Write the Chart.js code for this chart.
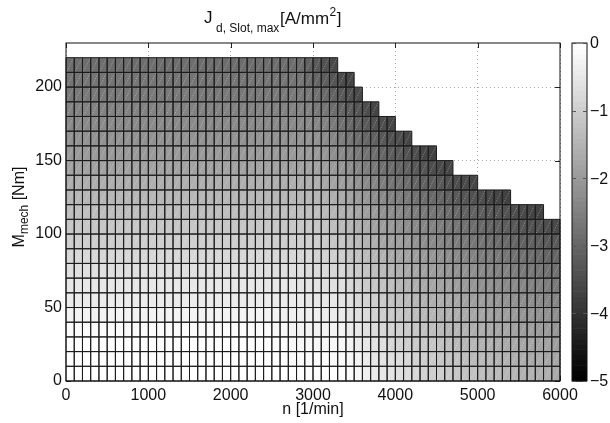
<!DOCTYPE html>
<html>
<head>
<meta charset="utf-8">
<script src="https://cdn.jsdelivr.net/npm/chart.js@4.4.1/dist/chart.umd.min.js"></script>
<style>
html,body{margin:0;padding:0;background:#fff;}
#wrap{position:relative;width:610px;height:423px;}
canvas{display:block;}
</style>
</head>
<body>
<div id="wrap"><canvas id="c" width="610" height="423"></canvas></div>
<script>
// ---------------- DATA ----------------
// cell lower-left corners: speed n [1/min] (cell width 100) and torque M [Nm] (cell height 10)
const speedStarts = [0,100,200,300,400,500,600,700,800,900,1000,1100,1200,1300,1400,1500,1600,1700,1800,1900,
  2000,2100,2200,2300,2400,2500,2600,2700,2800,2900,3000,3100,3200,3300,3400,3500,3600,3700,3800,3900,
  4000,4100,4200,4300,4400,4500,4600,4700,4800,4900,5000,5100,5200,5300,5400,5500,5600,5700,5800,5900];
const speedStep = 100;
const torqueStep = 10;
const torqueRows = [0,10,20,30,40,50,60,70,80,90,100,110,120,130,140,150,160,170,180,190,200,210];

// J_d,Slot,max [A/mm^2] per torque row, along speedStarts (row ends at the torque envelope)
const J_T0 = [0,0,0,0,0,0,0,0,0,0, 0,0,0,0,0,0,0,0,0,0, 0,0,0,0,0,0,0,0,0,0, 0,0,0,0,
  -0.11,-0.22,-0.32,-0.41,-0.50,-0.59,-0.67,-0.74,-0.81,-0.88,-0.95,-1.01,-1.07,-1.13,-1.19,-1.24,-1.29,-1.34,-1.39,-1.43,-1.48,-1.52,-1.56,-1.60,-1.64,-1.68];
const J_T10 = [-0.03,-0.03,-0.03,-0.03,-0.03,-0.03,-0.03,-0.03,-0.03,-0.03, -0.03,-0.03,-0.03,-0.03,-0.03,-0.03,-0.03,-0.03,-0.03,-0.03, -0.03,-0.03,-0.03,-0.03,-0.03,
  -0.07,-0.07,-0.08,-0.08,-0.08,-0.09,-0.09,-0.09,-0.09,
  -0.21,-0.31,-0.41,-0.51,-0.60,-0.68,-0.76,-0.84,-0.91,-0.98,-1.05,-1.11,-1.18,-1.23,-1.29,-1.34,-1.40,-1.44,-1.49,-1.54,-1.58,-1.63,-1.67,-1.71,-1.75,-1.78];
const J_T20 = [-0.07,-0.07,-0.07,-0.07,-0.07,-0.07,-0.07,-0.07,-0.07,-0.07, -0.07,-0.07,-0.07,-0.07,-0.07,-0.07,-0.07,-0.07,-0.07,-0.07, -0.07,-0.07,-0.07,-0.07,-0.07,
  -0.14,-0.15,-0.16,-0.16,-0.17,-0.18,-0.18,-0.19,-0.20,
  -0.31,-0.42,-0.52,-0.61,-0.70,-0.79,-0.87,-0.95,-1.02,-1.09,-1.16,-1.23,-1.29,-1.35,-1.41,-1.46,-1.51,-1.56,-1.61,-1.66,-1.70,-1.75,-1.79,-1.83,-1.87,-1.91];
const J_T30 = [-0.15,-0.15,-0.15,-0.15,-0.15,-0.15,-0.15,-0.15,-0.15,-0.15, -0.15,-0.15,-0.15,-0.15,-0.15,-0.15,-0.15,-0.15,-0.15,-0.15, -0.15,-0.15,-0.15,-0.15,-0.15,
  -0.22,-0.23,-0.24,-0.25,-0.27,-0.28,-0.29,-0.30,-0.31,
  -0.42,-0.53,-0.63,-0.73,-0.82,-0.91,-0.99,-1.07,-1.15,-1.22,-1.29,-1.35,-1.42,-1.48,-1.53,-1.59,-1.64,-1.70,-1.74,-1.79,-1.84,-1.88,-1.93,-1.97,-2.01,-2.05];
const J_T40 = [-0.27,-0.27,-0.27,-0.27,-0.27,-0.27,-0.27,-0.27,-0.27,-0.27, -0.27,-0.27,-0.27,-0.27,-0.27,-0.27,-0.27,-0.27,-0.27,-0.27, -0.27,-0.27,-0.27,-0.27,-0.27,
  -0.31,-0.32,-0.34,-0.35,-0.37,-0.38,-0.40,-0.41,-0.43,
  -0.55,-0.65,-0.76,-0.86,-0.95,-1.04,-1.12,-1.20,-1.28,-1.35,-1.42,-1.49,-1.55,-1.62,-1.68,-1.73,-1.79,-1.84,-1.89,-1.94,-1.99,-2.04,-2.08,-2.13,-2.17,-2.21];
const J_T50 = [-0.40,-0.40,-0.40,-0.40,-0.40,-0.40,-0.40,-0.40,-0.40,-0.40, -0.40,-0.40,-0.40,-0.40,-0.40,-0.40,-0.40,-0.40,-0.40,-0.40, -0.40,-0.40,-0.40,-0.40,-0.40,-0.40,
  -0.41,-0.43,-0.45,-0.47,-0.49,-0.52,-0.54,-0.56,
  -0.68,-0.79,-0.89,-0.99,-1.09,-1.18,-1.26,-1.34,-1.42,-1.50,-1.57,-1.64,-1.71,-1.77,-1.83,-1.89,-1.95,-2.00,-2.06,-2.11,-2.16,-2.21,-2.26,-2.30,-2.35,-2.39];
const J_T60 = [-0.53,-0.53,-0.53,-0.53,-0.53,-0.53,-0.53,-0.53,-0.53,-0.53, -0.53,-0.53,-0.53,-0.53,-0.53,-0.53,-0.53,-0.53,-0.53,-0.53, -0.53,-0.53,-0.53,-0.53,-0.53,-0.53,-0.53,
  -0.54,-0.56,-0.59,-0.61,-0.64,-0.67,-0.70,
  -0.81,-0.93,-1.03,-1.14,-1.23,-1.32,-1.41,-1.50,-1.58,-1.66,-1.73,-1.80,-1.87,-1.94,-2.00,-2.06,-2.12,-2.18,-2.23,-2.29,-2.34,-2.39,-2.44,-2.49,-2.54,-2.58];
const J_T70 = [-0.67,-0.67,-0.67,-0.67,-0.67,-0.67,-0.67,-0.67,-0.67,-0.67, -0.67,-0.67,-0.67,-0.67,-0.67,-0.67,-0.67,-0.67,-0.67,-0.67, -0.67,-0.67,-0.67,-0.67,-0.67,-0.67,-0.67,-0.67,
  -0.68,-0.71,-0.74,-0.77,-0.81,-0.84,
  -0.96,-1.08,-1.19,-1.29,-1.39,-1.48,-1.57,-1.66,-1.74,-1.82,-1.90,-1.97,-2.05,-2.12,-2.18,-2.25,-2.31,-2.37,-2.43,-2.49,-2.54,-2.59,-2.65,-2.70,-2.75,-2.80];
const J_T80 = [-0.82,-0.82,-0.82,-0.82,-0.82,-0.82,-0.82,-0.82,-0.82,-0.82, -0.82,-0.82,-0.82,-0.82,-0.82,-0.82,-0.82,-0.82,-0.82,-0.82, -0.82,-0.82,-0.82,-0.82,-0.82,-0.82,-0.82,-0.82,-0.82,
  -0.83,-0.87,-0.91,-0.95,-0.99,
  -1.12,-1.24,-1.35,-1.45,-1.56,-1.65,-1.75,-1.84,-1.92,-2.00,-2.08,-2.16,-2.24,-2.31,-2.38,-2.45,-2.51,-2.57,-2.64,-2.70,-2.76,-2.81,-2.87,-2.92,-2.98,-3.03];
const J_T90 = [-0.98,-0.98,-0.98,-0.98,-0.98,-0.98,-0.98,-0.98,-0.98,-0.98, -0.98,-0.98,-0.98,-0.98,-0.98,-0.98,-0.98,-0.98,-0.98,-0.98, -0.98,-0.98,-0.98,-0.98,-0.98,-0.98,-0.98,-0.98,-0.98,-0.98,
  -1.01,-1.06,-1.11,-1.16,
  -1.28,-1.40,-1.52,-1.63,-1.73,-1.83,-1.93,-2.02,-2.11,-2.20,-2.28,-2.36,-2.44,-2.51,-2.59,-2.66,-2.73,-2.79,-2.86,-2.92,-2.98,-3.05,-3.11,-3.16,-3.22,-3.28];
const J_T100 = [-1.14,-1.14,-1.14,-1.14,-1.14,-1.14,-1.14,-1.14,-1.14,-1.14, -1.14,-1.14,-1.14,-1.14,-1.14,-1.14,-1.14,-1.14,-1.14,-1.14, -1.14,-1.14,-1.14,-1.14,-1.14,-1.14,-1.14,-1.14,-1.14,-1.14,
  -1.16,-1.21,-1.27,-1.33,
  -1.46,-1.58,-1.70,-1.81,-1.92,-2.02,-2.12,-2.22,-2.31,-2.40,-2.49,-2.57,-2.65,-2.73,-2.81,-2.88,-2.96,-3.03,-3.10,-3.16,-3.23,-3.30,-3.36,-3.42,-3.48,-3.54];
const J_T110 = [-1.30,-1.30,-1.30,-1.30,-1.30,-1.30,-1.30,-1.30,-1.30,-1.30, -1.30,-1.30,-1.30,-1.30,-1.30,-1.30,-1.30,-1.30,-1.30,-1.30, -1.30,-1.30,-1.30,-1.30,-1.30,-1.30,-1.30,-1.30,-1.30,-1.30,
  -1.31,-1.38,-1.44,-1.51,
  -1.64,-1.77,-1.89,-2.00,-2.12,-2.22,-2.33,-2.43,-2.52,-2.62,-2.71,-2.80,-2.88,-2.96,-3.05,-3.12,-3.20,-3.27,-3.35,-3.42,-3.49,-3.56,-3.63,-3.70];
const J_T120 = [-1.47,-1.47,-1.47,-1.47,-1.47,-1.47,-1.47,-1.47,-1.47,-1.47, -1.47,-1.47,-1.47,-1.47,-1.47,-1.47,-1.47,-1.47,-1.47,-1.47, -1.47,-1.47,-1.47,-1.47,-1.47,-1.47,-1.47,-1.47,-1.47,-1.47,-1.47,
  -1.54,-1.62,-1.69,
  -1.83,-1.96,-2.09,-2.21,-2.32,-2.44,-2.54,-2.65,-2.75,-2.84,-2.94,-3.03,-3.12,-3.21,-3.29,-3.38,-3.46,-3.54,-3.62,-3.69];
const J_T130 = [-1.63,-1.63,-1.63,-1.63,-1.63,-1.63,-1.63,-1.63,-1.63,-1.63, -1.63,-1.63,-1.63,-1.63,-1.63,-1.63,-1.63,-1.63,-1.63,-1.63, -1.63,-1.63,-1.63,-1.63,-1.63,-1.63,-1.63,-1.63,-1.63,-1.63,
  -1.64,-1.72,-1.80,-1.89,
  -2.03,-2.17,-2.30,-2.42,-2.54,-2.66,-2.77,-2.88,-2.98,-3.08,-3.18,-3.28,-3.37,-3.47,-3.56,-3.65];
const J_T140 = [-1.80,-1.80,-1.80,-1.80,-1.80,-1.80,-1.80,-1.80,-1.80,-1.80, -1.80,-1.80,-1.80,-1.80,-1.80,-1.80,-1.80,-1.80,-1.80,-1.80, -1.80,-1.80,-1.80,-1.80,-1.80,-1.80,-1.80,-1.80,-1.80,-1.80,
  -1.81,-1.90,-2.00,-2.09,
  -2.24,-2.38,-2.51,-2.64,-2.77,-2.89,-3.00,-3.12,-3.23,-3.33,-3.44,-3.54,-3.64];
const J_T150 = [-1.96,-1.96,-1.96,-1.96,-1.96,-1.96,-1.96,-1.96,-1.96,-1.96, -1.96,-1.96,-1.96,-1.96,-1.96,-1.96,-1.96,-1.96,-1.96,-1.96, -1.96,-1.96,-1.96,-1.96,-1.96,-1.96,-1.96,-1.96,-1.96,-1.96,
  -2.00,-2.10,-2.20,-2.30,
  -2.45,-2.60,-2.74,-2.87,-3.00,-3.13,-3.25,-3.37,-3.49,-3.60,-3.71];
const J_T160 = [-2.12,-2.12,-2.12,-2.12,-2.12,-2.12,-2.12,-2.12,-2.12,-2.12, -2.12,-2.12,-2.12,-2.12,-2.12,-2.12,-2.12,-2.12,-2.12,-2.12, -2.12,-2.12,-2.12,-2.12,-2.12,-2.12,-2.12,-2.12,-2.12,-2.12,
  -2.18,-2.29,-2.41,-2.53,
  -2.68,-2.83,-2.98,-3.12,-3.25,-3.38,-3.51,-3.63];
const J_T170 = [-2.28,-2.28,-2.28,-2.28,-2.28,-2.28,-2.28,-2.28,-2.28,-2.28, -2.28,-2.28,-2.28,-2.28,-2.28,-2.28,-2.28,-2.28,-2.28,-2.28, -2.28,-2.28,-2.28,-2.28,-2.28,-2.28,-2.28,-2.28,-2.28,-2.28,
  -2.38,-2.50,-2.63,-2.76,
  -2.92,-3.07,-3.22,-3.37,-3.51,-3.64];
const J_T180 = [-2.43,-2.43,-2.43,-2.43,-2.43,-2.43,-2.43,-2.43,-2.43,-2.43, -2.43,-2.43,-2.43,-2.43,-2.43,-2.43,-2.43,-2.43,-2.43,-2.43, -2.43,-2.43,-2.43,-2.43,-2.43,-2.43,-2.43,-2.43,-2.43,
  -2.45,-2.58,-2.71,-2.85,-2.99,
  -3.16,-3.32,-3.48,-3.63];
const J_T190 = [-2.58,-2.58,-2.58,-2.58,-2.58,-2.58,-2.58,-2.58,-2.58,-2.58, -2.58,-2.58,-2.58,-2.58,-2.58,-2.58,-2.58,-2.58,-2.58,-2.58, -2.58,-2.58,-2.58,-2.58,-2.58,-2.58,-2.58,-2.58,-2.58,
  -2.65,-2.79,-2.93,-3.08,-3.24,
  -3.41,-3.58];
const J_T200 = [-2.72,-2.72,-2.72,-2.72,-2.72,-2.72,-2.72,-2.72,-2.72,-2.72, -2.72,-2.72,-2.72,-2.72,-2.72,-2.72,-2.72,-2.72,-2.72,-2.72, -2.72,-2.72,-2.72,-2.72,-2.72,-2.72,-2.72,-2.72,-2.72,
  -2.85,-3.00,-3.16,-3.33,-3.49,
  -3.67];
const J_T210 = [-2.85,-2.85,-2.85,-2.85,-2.85,-2.85,-2.85,-2.85,-2.85,-2.85, -2.85,-2.85,-2.85,-2.85,-2.85,-2.85,-2.85,-2.85,-2.85,-2.85, -2.85,-2.85,-2.85,-2.85,-2.85,-2.85,-2.85,-2.85,
  -2.89,-3.06,-3.22,-3.40,-3.58];

const xTickValues = [0,1000,2000,3000,4000,5000,6000];
const xTickLabels = ['0','1000','2000','3000','4000','5000','6000'];
const yTickValues = [0,50,100,150,200];
const yTickLabels = ['0','50','100','150','200'];
const cbTickValues = [0,-1,-2,-3,-4,-5];
const cbTickLabels = ['0','\u22121','\u22122','\u22123','\u22124','\u22125'];
const colorMin = -5, colorMax = 0, colorLevels = 64;

const rows = [J_T0,J_T10,J_T20,J_T30,J_T40,J_T50,J_T60,J_T70,J_T80,J_T90,J_T100,
  J_T110,J_T120,J_T130,J_T140,J_T150,J_T160,J_T170,J_T180,J_T190,J_T200,J_T210];

// ---------------- RENDERING ----------------
const FONT = '"Liberation Sans", Arial, Helvetica, sans-serif';
const TXT = '#111';

function grayFor(v){
  let idx = Math.floor((v - colorMin) / (colorMax - colorMin) * colorLevels);
  idx = Math.max(0, Math.min(colorLevels - 1, idx));
  const g = Math.round(idx / (colorLevels - 1) * 255);
  return 'rgb(' + g + ',' + g + ',' + g + ')';
}

const cellPlugin = {
  id: 'cells',
  beforeDatasetsDraw(chart){
    const {ctx, chartArea: ca} = chart;
    const xs = chart.scales.x, ys = chart.scales.y;
    ctx.save();
    // inward tick marks (drawn under the surface, as in the original)
    ctx.strokeStyle = '#222'; ctx.lineWidth = 1; ctx.setLineDash([]);
    ctx.beginPath();
    xTickValues.forEach(v => {
      const px = Math.round(xs.getPixelForValue(v)) + 0.5;
      ctx.moveTo(px, ca.bottom); ctx.lineTo(px, ca.bottom - 5);
      ctx.moveTo(px, ca.top); ctx.lineTo(px, ca.top + 5);
    });
    yTickValues.forEach(v => {
      const py = Math.round(ys.getPixelForValue(v)) + 0.5;
      ctx.moveTo(ca.left, py); ctx.lineTo(ca.left + 5, py);
      ctx.moveTo(ca.right, py); ctx.lineTo(ca.right - 5, py);
    });
    ctx.stroke();

    // faces
    rows.forEach((vals, j) => {
      const t0 = torqueRows[j];
      const yb = ys.getPixelForValue(t0), yt = ys.getPixelForValue(t0 + torqueStep);
      vals.forEach((v, i) => {
        const n0 = speedStarts[i];
        const xl = xs.getPixelForValue(n0), xr = xs.getPixelForValue(n0 + speedStep);
        ctx.fillStyle = grayFor(v);
        ctx.fillRect(xl, yt, xr - xl, yb - yt);
      });
    });
    // faint triangle diagonals
    ctx.strokeStyle = 'rgba(255,255,255,0.36)';
    ctx.lineWidth = 0.9;
    ctx.setLineDash([1.2, 1.4]);
    ctx.beginPath();
    rows.forEach((vals, j) => {
      const t0 = torqueRows[j];
      const yb = ys.getPixelForValue(t0), yt = ys.getPixelForValue(t0 + torqueStep);
      vals.forEach((v, i) => {
        const n0 = speedStarts[i];
        const xl = xs.getPixelForValue(n0), xr = xs.getPixelForValue(n0 + speedStep);
        ctx.moveTo(xl + 1, yb - 1); ctx.lineTo(xr - 1, yt + 1);
      });
    });
    ctx.stroke();
    // edges
    ctx.setLineDash([]);
    ctx.strokeStyle = '#1c1c1c';
    ctx.lineWidth = 1;
    ctx.beginPath();
    rows.forEach((vals, j) => {
      const t0 = torqueRows[j];
      const yb = ys.getPixelForValue(t0), yt = ys.getPixelForValue(t0 + torqueStep);
      vals.forEach((v, i) => {
        const n0 = speedStarts[i];
        const xl = xs.getPixelForValue(n0), xr = xs.getPixelForValue(n0 + speedStep);
        ctx.rect(xl, yt, xr - xl, yb - yt);
      });
    });
    ctx.stroke();
    ctx.restore();
  },
  afterDraw(chart){
    const {ctx, chartArea: ca} = chart;
    ctx.save();
    // axes box
    ctx.strokeStyle = '#111'; ctx.lineWidth = 1; ctx.setLineDash([]);
    ctx.strokeRect(ca.left, ca.top, ca.right - ca.left, ca.bottom - ca.top);

    // colorbar
    const cb = chart.scales.cb;
    const x0 = 572, x1 = 587;
    for (let k = 0; k < colorLevels; k++){
      const vLo = colorMin + k * (colorMax - colorMin) / colorLevels;
      const vHi = colorMin + (k + 1) * (colorMax - colorMin) / colorLevels;
      const pLo = cb.getPixelForValue(vLo), pHi = cb.getPixelForValue(vHi);
      const g = Math.round(k / (colorLevels - 1) * 255);
      ctx.fillStyle = 'rgb(' + g + ',' + g + ',' + g + ')';
      ctx.fillRect(x0, pHi, x1 - x0, pLo - pHi + 0.6);
    }
    const cTop = cb.getPixelForValue(colorMax), cBot = cb.getPixelForValue(colorMin);
    ctx.strokeStyle = '#111';
    ctx.strokeRect(x0, cTop, x1 - x0, cBot - cTop);
    ctx.beginPath();
    cbTickValues.forEach(v => {
      const py = Math.round(cb.getPixelForValue(v)) + 0.5;
      ctx.moveTo(x0, py); ctx.lineTo(x0 + 4, py);
      ctx.moveTo(x1, py); ctx.lineTo(x1 - 4, py);
    });
    ctx.strokeStyle = '#555';
    ctx.stroke();
    ctx.fillStyle = TXT;
    ctx.font = '16px ' + FONT;
    ctx.textAlign = 'left'; ctx.textBaseline = 'middle';
    cbTickValues.forEach((v, i) => {
      ctx.fillText(cbTickLabels[i], x1 + 3, cb.getPixelForValue(v) + 1);
    });

    // title  J_{d, Slot, max} [A/mm^2]
    ctx.textBaseline = 'alphabetic';
    ctx.font = '17px ' + FONT;
    ctx.fillText('J', 204, 23);
    ctx.font = '12px ' + FONT;
    ctx.fillText('d, Slot, max', 216, 32);
    ctx.font = '17px ' + FONT;
    ctx.fillText('[A/mm', 280, 24);
    const wA = ctx.measureText('[A/mm').width;
    ctx.font = '12px ' + FONT;
    ctx.fillText('2', 280 + wA + 0.5, 16);
    const w2 = ctx.measureText('2').width;
    ctx.font = '17px ' + FONT;
    ctx.fillText(']', 280 + wA + 0.5 + w2 + 0.5, 24);

    // y label  M_{mech} [Nm]
    ctx.save();
    ctx.translate(24, 207);
    ctx.rotate(-Math.PI / 2);
    ctx.font = '16px ' + FONT;
    const wM = ctx.measureText('M').width;
    const wRest = ctx.measureText(' [Nm]').width;
    ctx.font = '12px ' + FONT;
    const wSub = ctx.measureText('mech').width;
    let xx = -(wM + wSub + wRest) / 2;
    ctx.font = '16px ' + FONT;
    ctx.fillText('M', xx, 0); xx += wM;
    ctx.font = '12px ' + FONT;
    ctx.fillText('mech', xx, 4); xx += wSub;
    ctx.font = '16px ' + FONT;
    ctx.fillText(' [Nm]', xx, 0);
    ctx.restore();
    ctx.restore();
  }
};

new Chart(document.getElementById('c'), {
  type: 'scatter',
  data: { datasets: [{ data: [], pointRadius: 0 }] },
  options: {
    responsive: false,
    animation: false,
    devicePixelRatio: 1,
    layout: { padding: { left: 0, right: 50, top: 43, bottom: 0 } },
    plugins: { legend: { display: false }, tooltip: { enabled: false }, title: { display: false } },
    scales: {
      x: {
        type: 'linear', min: 0, max: 6000, position: 'bottom',
        afterBuildTicks: s => { s.ticks = xTickValues.map(v => ({ value: v })); },
        afterFit: s => { s.height = 42; },
        grid: { color: '#a6a6a6', lineWidth: 1, drawTicks: false },
        border: { display: false, dash: [1, 3] },
        ticks: { padding: 5, color: TXT, font: { family: FONT, size: 16 }, maxRotation: 0, autoSkip: false,
          callback: (v) => xTickLabels[xTickValues.indexOf(v)] },
        title: { display: true, text: 'n [1/min]', color: TXT, font: { family: FONT, size: 16 }, padding: { top: 0, bottom: 4 } }
      },
      y: {
        type: 'linear', min: 0, max: 230, position: 'left',
        afterBuildTicks: s => { s.ticks = yTickValues.map(v => ({ value: v })); },
        afterFit: s => { s.width = 66; },
        grid: { color: '#a6a6a6', lineWidth: 1, drawTicks: false },
        border: { display: false, dash: [1, 3] },
        ticks: { padding: 4, color: TXT, font: { family: FONT, size: 16 }, autoSkip: false,
          callback: (v) => yTickLabels[yTickValues.indexOf(v)] }
      },
      cb: { type: 'linear', min: colorMin, max: colorMax, position: 'right', display: false }
    }
  },
  plugins: [cellPlugin]
});
</script>
</body>
</html>
